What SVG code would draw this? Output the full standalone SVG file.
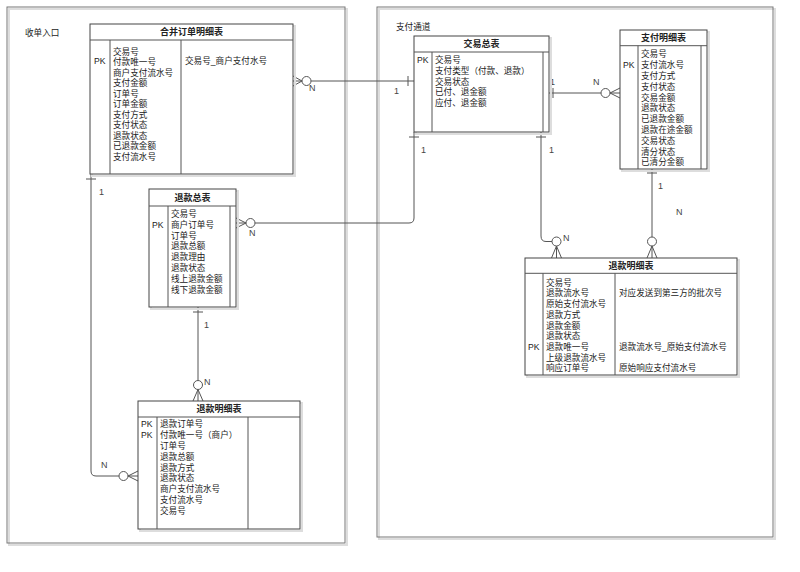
<svg xmlns="http://www.w3.org/2000/svg" width="800" height="572" viewBox="0 0 800 572">
<style>
text{font-family:"Liberation Sans","Noto Sans CJK SC",sans-serif;font-size:8.6px;fill:#222}
.t{font-weight:bold;font-size:9px;text-anchor:middle}
.box{fill:#fff;stroke:#444;stroke-width:1}
.sh{fill:none;stroke:#ddd;stroke-width:2}
.ln{fill:none;stroke:#555;stroke-width:1}
.fr{fill:none;stroke:#777;stroke-width:1}
.c{fill:#fff;stroke:#555;stroke-width:1}
.lb{font-size:9px;fill:#444}
</style>
<rect width="800" height="572" fill="#fff"/>
<g id="frames">
<rect x="9" y="9" width="338" height="536" class="sh"/>
<rect x="7" y="7" width="338" height="536" class="fr"/>
<rect x="379" y="9" width="396" height="530" class="sh"/>
<rect x="377" y="7" width="396" height="530" class="fr"/>
<text x="25" y="36">收单入口</text>
<text x="396" y="30">支付通道</text>
</g>
<g id="connectors">
<!-- 合并订单 -> 交易总表 -->
<path class="ln" d="M311,81 H414 M408,76 V86 M293,76 L302,81 L293,86 M293,81 H302"/>
<circle class="c" cx="306.5" cy="81" r="4.5"/>
<text x="309" y="91" class="lb">N</text>
<text x="394" y="94" class="lb">1</text>
<!-- 交易总表 -> 支付明细表 -->
<path class="ln" d="M549,93 H601 M553,88 V98 M620,88 L610,93 L620,98 M620,93 H610"/>
<circle class="c" cx="605.5" cy="93" r="4.5"/>
<text x="550" y="85" class="lb">1</text>
<text x="593" y="85" class="lb">N</text>
<!-- 交易总表 -> 退款总表 -->
<path class="ln" d="M414,132 V218 Q414,223 409,223 H255 M409,137 H419 M236,218 L246,223 L236,228 M236,223 H246"/>
<circle class="c" cx="250.5" cy="223" r="4.5"/>
<text x="421" y="153" class="lb">1</text>
<text x="249" y="236" class="lb">N</text>
<!-- 交易总表 -> 退款明细表(右) -->
<path class="ln" d="M541,132 V236 Q541,241.5 546,241.5 H552 M536,137 H546 M551.5,258 L556.5,246 L561.5,258 M556.5,258 V246"/>
<circle class="c" cx="556.5" cy="241.5" r="4.5"/>
<text x="549" y="153" class="lb">1</text>
<text x="563" y="241" class="lb">N</text>
<!-- 支付明细表 -> 退款明细表(右) -->
<path class="ln" d="M652,169 V237 M647,173 H657 M647,258 L652,246 L657,258 M652,258 V246"/>
<circle class="c" cx="652" cy="241.5" r="4.5"/>
<text x="658" y="189" class="lb">1</text>
<text x="676" y="215" class="lb">N</text>
<!-- 退款总表 -> 退款明细表(左) -->
<path class="ln" d="M198,307 V380.5 M193,312 H203 M193,401 L198,389.5 L203,401 M198,401 V389.5"/>
<circle class="c" cx="198" cy="385" r="4.5"/>
<text x="204" y="328" class="lb">1</text>
<text x="204" y="385" class="lb">N</text>
<!-- 合并订单 -> 退款明细表(左) -->
<path class="ln" d="M91,174 V471 Q91,476 96,476 H119 M86,179 H96 M138,471 L128,476 L138,481 M138,476 H128"/>
<circle class="c" cx="123.5" cy="476" r="4.5"/>
<text x="99" y="195" class="lb">1</text>
<text x="101" y="468" class="lb">N</text>
</g>
<g id="merge-order">
<rect x="92" y="26" width="203" height="150" class="sh"/>
<rect x="90" y="24" width="203" height="150" class="box"/>
<path class="ln" d="M90,40 H293 M110,40 V174 M181,40 V174"/>
<text x="191.5" y="35" class="t">合并订单明细表</text>
<text x="94" y="64">PK</text>
<text x="113" y="54.7">交易号</text>
<text x="113" y="65.2">付款唯一号</text>
<text x="113" y="75.7">商户支付流水号</text>
<text x="113" y="86.2">支付金额</text>
<text x="113" y="96.7">订单号</text>
<text x="113" y="107.2">订单金额</text>
<text x="113" y="117.7">支付方式</text>
<text x="113" y="128.2">支付状态</text>
<text x="113" y="138.7">退款状态</text>
<text x="113" y="149.2">已退款金额</text>
<text x="113" y="159.7">支付流水号</text>
<text x="185" y="64">交易号_商户支付水号</text>
</g>
<g id="trade-summary">
<rect x="416" y="38" width="135" height="96" class="sh"/>
<rect x="414" y="36" width="135" height="96" class="box"/>
<path class="ln" d="M414,52 H549 M432,52 V132 M543,52 V132"/>
<text x="481.5" y="47" class="t">交易总表</text>
<text x="417" y="63.3">PK</text>
<text x="435" y="63.3">交易号</text>
<text x="435" y="74">支付类型（付款、退款）</text>
<text x="435" y="84.7">交易状态</text>
<text x="435" y="95.4">已付、退金额</text>
<text x="435" y="106.1">应付、退金额</text>
</g>
<g id="pay-detail">
<rect x="622" y="32" width="87" height="139" class="sh"/>
<rect x="620" y="30" width="87" height="139" class="box"/>
<path class="ln" d="M620,45.7 H707 M638,45.7 V169 M701,45.7 V169"/>
<text x="663.5" y="41" class="t">支付明细表</text>
<text x="623" y="68.3">PK</text>
<text x="641" y="57.3">交易号</text>
<text x="641" y="68.1">支付流水号</text>
<text x="641" y="78.9">支付方式</text>
<text x="641" y="89.7">支付状态</text>
<text x="641" y="100.5">交易金额</text>
<text x="641" y="111.3">退款状态</text>
<text x="641" y="122.1">已退款金额</text>
<text x="641" y="132.9">退款在途金额</text>
<text x="641" y="143.7">交易状态</text>
<text x="641" y="154.5">清分状态</text>
<text x="641" y="165.3">已清分金额</text>
</g>
<g id="refund-summary">
<rect x="151" y="191" width="87" height="118" class="sh"/>
<rect x="149" y="189" width="87" height="118" class="box"/>
<path class="ln" d="M149,206 H236 M168,206 V307 M230,206 V307"/>
<text x="192.5" y="201" class="t">退款总表</text>
<text x="152" y="228">PK</text>
<text x="171" y="217">交易号</text>
<text x="171" y="227.8">商户订单号</text>
<text x="171" y="238.6">订单号</text>
<text x="171" y="249.4">退款总额</text>
<text x="171" y="260.2">退款理由</text>
<text x="171" y="271">退款状态</text>
<text x="171" y="281.8">线上退款金额</text>
<text x="171" y="292.6">线下退款金额</text>
</g>
<g id="refund-detail-left">
<rect x="140" y="403" width="162" height="128" class="sh"/>
<rect x="138" y="401" width="162" height="128" class="box"/>
<path class="ln" d="M138,417 H300 M157,417 V529 M248,417 V529"/>
<text x="219" y="412" class="t">退款明细表</text>
<text x="141" y="427.3">PK</text>
<text x="141" y="438.1">PK</text>
<text x="160" y="427.3">退款订单号</text>
<text x="160" y="438.1">付款唯一号（商户）</text>
<text x="160" y="448.9">订单号</text>
<text x="160" y="459.7">退款总额</text>
<text x="160" y="470.5">退款方式</text>
<text x="160" y="481.3">退款状态</text>
<text x="160" y="492.1">商户支付流水号</text>
<text x="160" y="502.9">支付流水号</text>
<text x="160" y="513.7">交易号</text>
</g>
<g id="refund-detail-right">
<rect x="527" y="260" width="212" height="117" class="sh"/>
<rect x="525" y="258" width="212" height="117" class="box"/>
<path class="ln" d="M525,273.3 H737 M543,273.3 V375 M615,273.3 V375"/>
<text x="631" y="269" class="t">退款明细表</text>
<text x="528" y="350.3">PK</text>
<text x="546" y="285.7">交易号</text>
<text x="546" y="296.4">退款流水号</text>
<text x="546" y="307.1">原始支付流水号</text>
<text x="546" y="317.8">退款方式</text>
<text x="546" y="328.5">退款金额</text>
<text x="546" y="339.2">退款状态</text>
<text x="546" y="349.9">退款唯一号</text>
<text x="546" y="360.6">上级退款流水号</text>
<text x="546" y="371.3">响应订单号</text>
<text x="619" y="296.4">对应发送到第三方的批次号</text>
<text x="619" y="349.9">退款流水号_原始支付流水号</text>
<text x="619" y="371.3">原始响应支付流水号</text>
</g>
</svg>
